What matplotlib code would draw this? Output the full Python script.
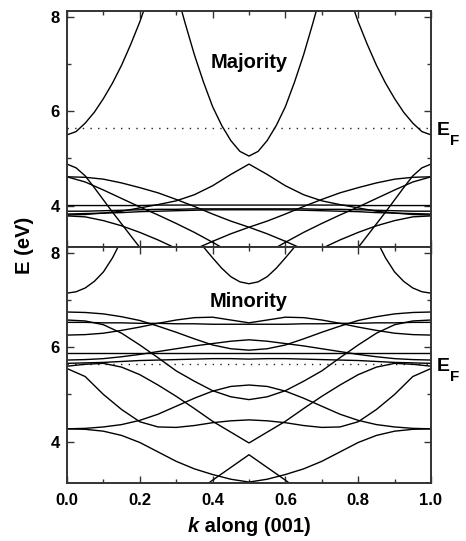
import matplotlib
matplotlib.use('Agg')
import matplotlib.pyplot as plt
from matplotlib.transforms import Bbox, TransformedBbox
from matplotlib.ticker import MultipleLocator

plt.rcParams['font.family'] = ['Liberation Sans', 'DejaVu Sans']

E_FERMI = 5.64

# common k grid (0 .. 1 step 0.05)
k21 = [0.00, 0.05, 0.10, 0.15, 0.20, 0.25, 0.30, 0.35, 0.40, 0.45, 0.50,
       0.55, 0.60, 0.65, 0.70, 0.75, 0.80, 0.85, 0.90, 0.95, 1.00]

# ---------------- Majority (upper panel) ----------------
maj_par_k = [0.000, 0.025, 0.050, 0.075, 0.100, 0.125, 0.150, 0.175, 0.200, 0.225]
maj_par_kr = [1.000, 0.975, 0.950, 0.925, 0.900, 0.875, 0.850, 0.825, 0.800, 0.775]
maj_par_E = [5.50, 5.57, 5.75, 5.98, 6.27, 6.60, 6.98, 7.42, 7.90, 8.45]

maj_cpar_k = [0.300, 0.325, 0.350, 0.375, 0.400, 0.425, 0.450, 0.475, 0.500,
              0.525, 0.550, 0.575, 0.600, 0.625, 0.650, 0.675, 0.700]
maj_cpar_E = [8.55, 7.86, 7.20, 6.62, 6.10, 5.70, 5.38, 5.15, 5.05,
              5.15, 5.38, 5.70, 6.10, 6.62, 7.20, 7.86, 8.55]

maj_A_k = [0.000, 0.025, 0.050, 0.075, 0.100, 0.125, 0.150, 0.175, 0.200, 0.225, 0.250]
maj_A_kr = [1.000, 0.975, 0.950, 0.925, 0.900, 0.875, 0.850, 0.825, 0.800, 0.775, 0.750]
maj_A_E = [4.88, 4.80, 4.63, 4.38, 4.12, 3.86, 3.61, 3.36, 3.11, 2.86, 2.60]

maj_B1_k = [0.00, 0.05, 0.10, 0.15, 0.20, 0.25, 0.30, 0.35, 0.40, 0.45, 0.50, 0.55, 0.60, 0.65, 0.70]
maj_B1_kr = [1.00, 0.95, 0.90, 0.85, 0.80, 0.75, 0.70, 0.65, 0.60, 0.55, 0.50, 0.45, 0.40, 0.35, 0.30]
maj_B1_E = [4.61, 4.60, 4.56, 4.48, 4.38, 4.27, 4.13, 3.98, 3.82, 3.67, 3.54, 3.40, 3.24, 3.07, 2.90]

maj_B2_k = [0.00, 0.05, 0.10, 0.15, 0.20, 0.25, 0.30, 0.35, 0.40, 0.45]
maj_B2_kr = [1.00, 0.95, 0.90, 0.85, 0.80, 0.75, 0.70, 0.65, 0.60, 0.55]
maj_B2_E = [4.61, 4.50, 4.33, 4.15, 3.97, 3.80, 3.62, 3.43, 3.22, 3.00]

maj_C_k = [0.00, 0.05, 0.10, 0.15, 0.20, 0.25, 0.30, 0.35]
maj_C_kr = [1.00, 0.95, 0.90, 0.85, 0.80, 0.75, 0.70, 0.65]
maj_C_E = [3.78, 3.76, 3.68, 3.57, 3.43, 3.27, 3.09, 2.90]

maj_D_E = [3.80, 3.81, 3.84, 3.88, 3.95, 4.02, 4.10, 4.23, 4.42, 4.66, 4.88,
           4.66, 4.42, 4.23, 4.10, 4.02, 3.95, 3.88, 3.84, 3.81, 3.80]
maj_F1_E = [4.00, 4.00, 4.00, 4.00, 4.00, 4.01, 4.01, 4.01, 4.01, 4.01, 4.01,
            4.01, 4.01, 4.01, 4.01, 4.01, 4.00, 4.00, 4.00, 4.00, 4.00]
maj_F2_E = [3.88, 3.88, 3.89, 3.90, 3.91, 3.92, 3.92, 3.93, 3.93, 3.93, 3.93,
            3.93, 3.93, 3.93, 3.92, 3.92, 3.91, 3.90, 3.89, 3.88, 3.88]
maj_F3_E = [3.82, 3.83, 3.84, 3.85, 3.87, 3.88, 3.89, 3.90, 3.91, 3.91, 3.91,
            3.91, 3.91, 3.90, 3.89, 3.88, 3.87, 3.85, 3.84, 3.83, 3.82]

# ---------------- Minority (lower panel) ----------------
min_par_k = [0.000, 0.025, 0.050, 0.075, 0.100, 0.125, 0.150]
min_par_kr = [1.000, 0.975, 0.950, 0.925, 0.900, 0.875, 0.850]
min_par_E = [7.15, 7.18, 7.26, 7.40, 7.60, 7.90, 8.28]

min_cpar_k = [0.350, 0.375, 0.400, 0.425, 0.450, 0.475, 0.500,
              0.525, 0.550, 0.575, 0.600, 0.625, 0.650]
min_cpar_E = [8.40, 8.13, 7.90, 7.68, 7.50, 7.39, 7.35,
              7.39, 7.50, 7.68, 7.90, 8.13, 8.40]

min_M1_E = [6.75, 6.74, 6.71, 6.65, 6.57, 6.45, 6.32, 6.18, 6.05, 5.97, 5.94,
            5.97, 6.05, 6.18, 6.32, 6.45, 6.57, 6.65, 6.71, 6.74, 6.75]
min_W_E = [6.26, 6.27, 6.30, 6.36, 6.43, 6.51, 6.58, 6.63, 6.64, 6.58, 6.52,
           6.58, 6.64, 6.63, 6.58, 6.51, 6.43, 6.36, 6.30, 6.27, 6.26]
min_FL1_E = [6.53, 6.53, 6.52, 6.52, 6.51, 6.51, 6.50, 6.50, 6.49, 6.49, 6.49,
             6.49, 6.49, 6.50, 6.50, 6.51, 6.51, 6.52, 6.52, 6.53, 6.53]
min_D2_E = [6.58, 6.56, 6.48, 6.30, 6.05, 5.78, 5.50, 5.28, 5.08, 4.95, 4.89,
            4.95, 5.08, 5.28, 5.50, 5.78, 6.05, 6.30, 6.48, 6.56, 6.58]
min_V_E = [5.60, 5.64, 5.66, 5.58, 5.42, 5.20, 4.96, 4.70, 4.43, 4.20, 3.97,
           4.20, 4.43, 4.70, 4.96, 5.20, 5.42, 5.58, 5.66, 5.64, 5.60]
min_R1_E = [4.27, 4.28, 4.31, 4.36, 4.45, 4.58, 4.75, 4.92, 5.07, 5.17, 5.20,
            5.17, 5.07, 4.92, 4.75, 4.58, 4.45, 4.36, 4.31, 4.28, 4.27]
min_P_E = [5.55, 5.38, 5.00, 4.68, 4.42, 4.31, 4.30, 4.34, 4.40, 4.44, 4.46,
           4.44, 4.40, 4.34, 4.30, 4.31, 4.42, 4.68, 5.00, 5.38, 5.55]
min_C2_E = [4.27, 4.26, 4.22, 4.13, 3.98, 3.78, 3.58, 3.42, 3.30, 3.20, 3.14,
            3.20, 3.30, 3.42, 3.58, 3.78, 3.98, 4.13, 4.22, 4.26, 4.27]
min_E2_E = [5.73, 5.74, 5.76, 5.80, 5.85, 5.91, 5.97, 6.03, 6.08, 6.13, 6.16,
            6.13, 6.08, 6.03, 5.97, 5.91, 5.85, 5.80, 5.76, 5.74, 5.73]
min_E3_E = [5.66, 5.67, 5.68, 5.70, 5.72, 5.73, 5.74, 5.75, 5.76, 5.76, 5.75,
            5.76, 5.76, 5.75, 5.74, 5.73, 5.72, 5.70, 5.68, 5.67, 5.66]
min_FL2_E = [5.87, 5.87, 5.87, 5.87, 5.87, 5.87, 5.87, 5.87, 5.87, 5.87, 5.87,
             5.87, 5.87, 5.87, 5.87, 5.87, 5.87, 5.87, 5.87, 5.87, 5.87]
min_cap_k = [0.36, 0.40, 0.45, 0.50, 0.55, 0.60, 0.64]
min_cap_E = [2.95, 3.18, 3.45, 3.72, 3.45, 3.18, 2.95]

maj_lines = [
    (maj_par_k, maj_par_E), (maj_par_kr, maj_par_E), (maj_cpar_k, maj_cpar_E),
    (maj_A_k, maj_A_E), (maj_A_kr, maj_A_E),
    (maj_B1_k, maj_B1_E), (maj_B1_kr, maj_B1_E),
    (maj_B2_k, maj_B2_E), (maj_B2_kr, maj_B2_E),
    (maj_C_k, maj_C_E), (maj_C_kr, maj_C_E),
    (k21, maj_D_E), (k21, maj_F1_E), (k21, maj_F2_E), (k21, maj_F3_E),
]
min_lines = [
    (min_par_k, min_par_E), (min_par_kr, min_par_E), (min_cpar_k, min_cpar_E),
    (k21, min_M1_E), (k21, min_W_E), (k21, min_FL1_E), (k21, min_D2_E),
    (k21, min_V_E), (k21, min_R1_E), (k21, min_P_E), (k21, min_C2_E),
    (k21, min_E2_E), (k21, min_E3_E), (k21, min_FL2_E), (min_cap_k, min_cap_E),
]

W, H = 466, 541
fig = plt.figure(figsize=(W / 100, H / 100), dpi=100)
left, right = 67, 431
ax_top = fig.add_axes([left / W, 1 - 247 / H, (right - left) / W, 236 / H])
ax_bot = fig.add_axes([left / W, 1 - 483 / H, (right - left) / W, 236 / H])

spine_col = '#333333'
YLIM = (3.12, 8.13)

for ax in (ax_top, ax_bot):
    ax.set_xlim(0, 1)
    ax.set_ylim(*YLIM)
    ax.xaxis.set_major_locator(MultipleLocator(0.2))
    ax.xaxis.set_minor_locator(MultipleLocator(0.1))
    ax.yaxis.set_major_locator(MultipleLocator(2))
    ax.yaxis.set_minor_locator(MultipleLocator(1))
    ax.tick_params(which='both', direction='in', top=True, right=True,
                   color=spine_col, width=1.0)
    ax.tick_params(which='major', length=5)
    ax.tick_params(which='minor', length=3)
    ax.tick_params(axis='y', labelsize=12, pad=5)
    ax.tick_params(axis='x', labelsize=12, pad=7)
    for s in ax.spines.values():
        s.set_linewidth(1.4)
        s.set_color(spine_col)
    ax.axhline(E_FERMI, color='#222222', lw=1.0, ls=(0, (1, 4.5)))

ax_top.tick_params(labelbottom=False)
for ax in (ax_top, ax_bot):
    ax.set_yticks([4, 6, 8])
    ax.set_yticklabels(['4', '6', '8'], fontweight='bold')
ax_bot.set_xticks([0.0, 0.2, 0.4, 0.6, 0.8, 1.0])
ax_bot.set_xticklabels(['0.0', '0.2', '0.4', '0.6', '0.8', '1.0'], fontweight='bold')

# upper panel lines run a few pixels below their frame (into lower panel)
clip = TransformedBbox(Bbox([[0, -0.027], [1, 1]]), ax_top.transAxes)
for kk, ee in maj_lines:
    ln, = ax_top.plot(kk, ee, color='black', lw=1.0)
    ln.set_clip_box(clip)
for kk, ee in min_lines:
    ax_bot.plot(kk, ee, color='black', lw=1.0)

ax_top.text(0.5, 7.04, 'Majority', ha='center', va='center', fontsize=14.5, fontweight='bold')
ax_bot.text(0.5, 6.98, 'Minority', ha='center', va='center', fontsize=14.5, fontweight='bold')

for ax in (ax_top, ax_bot):
    ax.text(1.015, E_FERMI - 0.04, 'E', transform=ax.get_yaxis_transform(), ha='left',
            va='center', fontsize=14, fontweight='bold')
    ax.text(1.052, E_FERMI - 0.28, 'F', transform=ax.get_yaxis_transform(), ha='left',
            va='center', fontsize=11, fontweight='bold')

fig.text(25 / W, 1 - 245 / H, 'E (eV)', rotation=90, ha='center', va='center',
         fontsize=14.5, fontweight='bold')

# x label with italic k
lbl_y = 1 - 527 / H
t1 = fig.text(0, lbl_y, 'k', fontsize=14.5, fontweight='bold', fontstyle='italic', va='center')
t2 = fig.text(0, lbl_y, ' along (001)', fontsize=14.5, fontweight='bold', va='center')
fig.canvas.draw()
r = fig.canvas.get_renderer()
w1 = t1.get_window_extent(r).width
w2 = t2.get_window_extent(r).width
x0 = 249 - (w1 + w2) / 2
t1.set_x(x0 / W)
t2.set_x((x0 + w1) / W)

fig.savefig('out.png', dpi=100)
